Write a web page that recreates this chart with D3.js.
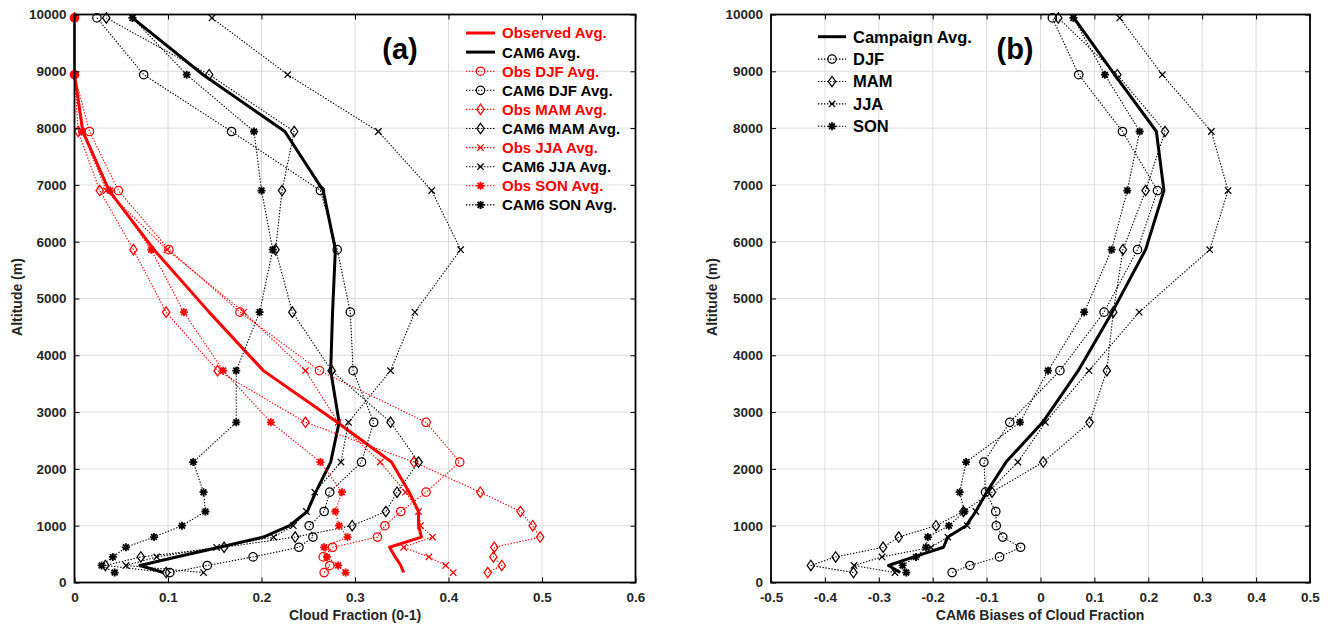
<!DOCTYPE html>
<html><head><meta charset="utf-8">
<script src="https://cdn.jsdelivr.net/npm/d3@7"></script>
<style>
body{margin:0;background:#fff}
svg{display:block}
text{font-family:'Liberation Sans',Arial,Helvetica,sans-serif;font-weight:bold}
</style>
</head><body>
<svg id="c" width="1331" height="625"></svg>
<script>
// ---------------- DATA ----------------
const altitudes = [175, 300, 450, 620, 800, 1000, 1250, 1590, 2120, 2820, 3730, 4760, 5860, 6900, 7940, 8940, 9940];

// Panel (a): cloud fraction (0-1)
const obsAvg  = [0.352, 0.349, 0.343, 0.337, 0.371, 0.368, 0.368, 0.358, 0.339, 0.281, 0.202, 0.144, 0.085, 0.037, 0.009, 0.000, 0.000];
const cam6Avg = [0.095, 0.070, 0.109, 0.155, 0.202, 0.230, 0.249, 0.258, 0.274, 0.283, 0.274, 0.276, 0.279, 0.266, 0.225, 0.1375, 0.062];
const obsDJF  = [0.267, 0.273, 0.266, 0.276, 0.324, 0.332, 0.349, 0.376, 0.412, 0.376, 0.262, 0.177, 0.101, 0.047, 0.016, 0.000, 0.000];
const cam6DJF = [0.102, 0.142, 0.191, 0.240, 0.255, 0.251, 0.267, 0.273, 0.307, 0.320, 0.298, 0.295, 0.281, 0.263, 0.168, 0.074, 0.024];
const obsMAM  = [0.442, 0.457, 0.448, 0.449, 0.498, 0.490, 0.477, 0.434, 0.363, 0.247, 0.153, 0.098, 0.063, 0.027, 0.004, 0.000, 0.000];
const cam6MAM = [0.098, 0.033, 0.071, 0.160, 0.236, 0.297, 0.333, 0.345, 0.368, 0.338, 0.275, 0.233, 0.215, 0.222, 0.235, 0.144, 0.034];
const obsJJA  = [0.405, 0.397, 0.379, 0.352, 0.383, 0.370, 0.368, 0.354, 0.327, 0.282, 0.247, 0.181, 0.099, 0.034, 0.008, 0.000, 0.000];
const cam6JJA = [0.138, 0.055, 0.088, 0.152, 0.213, 0.234, 0.248, 0.257, 0.285, 0.293, 0.338, 0.364, 0.413, 0.382, 0.325, 0.228, 0.147];
const obsSON  = [0.290, 0.282, 0.270, 0.267, 0.292, 0.283, 0.279, 0.286, 0.263, 0.210, 0.159, 0.117, 0.082, 0.038, 0.008, 0.000, 0.000];
const cam6SON = [0.043, 0.029, 0.041, 0.055, 0.085, 0.115, 0.140, 0.138, 0.127, 0.173, 0.173, 0.198, 0.212, 0.200, 0.192, 0.120, 0.062];

// Panel (b): CAM6 biases of cloud fraction
const biasAvg = [-0.260, -0.282, -0.235, -0.180, -0.172, -0.138, -0.120, -0.100, -0.064, 0.004, 0.070, 0.133, 0.195, 0.229, 0.215, 0.1375, 0.062];
const biasDJF = [-0.164, -0.131, -0.076, -0.037, -0.070, -0.082, -0.083, -0.102, -0.105, -0.057, 0.036, 0.118, 0.180, 0.217, 0.152, 0.071, 0.022];
const biasMAM = [-0.347, -0.426, -0.380, -0.292, -0.263, -0.194, -0.143, -0.090, 0.005, 0.091, 0.123, 0.135, 0.153, 0.195, 0.231, 0.1425, 0.033];
const biasJJA = [-0.270, -0.346, -0.294, -0.203, -0.172, -0.136, -0.120, -0.097, -0.042, 0.009, 0.090, 0.183, 0.314, 0.348, 0.317, 0.226, 0.147];
const biasSON = [-0.249, -0.256, -0.231, -0.2125, -0.209, -0.170, -0.141, -0.150, -0.138, -0.038, 0.014, 0.081, 0.132, 0.161, 0.184, 0.1195, 0.061];

// Ticks
const yTicks = [0, 1000, 2000, 3000, 4000, 5000, 6000, 7000, 8000, 9000, 10000];
const yTickLabels = ["0", "1000", "2000", "3000", "4000", "5000", "6000", "7000", "8000", "9000", "10000"];
const xTicksA = [0, 0.1, 0.2, 0.3, 0.4, 0.5, 0.6];
const xTickLabelsA = ["0", "0.1", "0.2", "0.3", "0.4", "0.5", "0.6"];
const xTicksB = [-0.5, -0.4, -0.3, -0.2, -0.1, 0, 0.1, 0.2, 0.3, 0.4, 0.5];
const xTickLabelsB = ["-0.5", "-0.4", "-0.3", "-0.2", "-0.1", "0", "0.1", "0.2", "0.3", "0.4", "0.5"];

const legendA = ["Observed Avg.", "CAM6 Avg.", "Obs DJF Avg.", "CAM6 DJF Avg.", "Obs MAM Avg.", "CAM6 MAM Avg.", "Obs JJA Avg.", "CAM6 JJA Avg.", "Obs SON Avg.", "CAM6 SON Avg."];
const legendB = ["Campaign Avg.", "DJF", "MAM", "JJA", "SON"];

// ---------------- DRAWING ----------------
const RED = "#ff0000", BLACK = "#000000", GRID = "#dcdcdc";
const DASH = "1.4,1.6";
const svg = d3.select("#c");
svg.append("rect").attr("width", 1331).attr("height", 625).attr("fill", "#fff");

const y = d3.scaleLinear().domain([0, 10000]).range([582.5, 14.5]);
const xa = d3.scaleLinear().domain([0, 0.6]).range([74.5, 635.5]);
const xb = d3.scaleLinear().domain([-0.5, 0.5]).range([771, 1310]);

function markerPath(t) {
  switch (t) {
    case "o": return "M4.2,0A4.2,4.2 0 1,1 -4.2,0A4.2,4.2 0 1,1 4.2,0Z";
    case "d": return "M0,-5.2L3.7,0L0,5.2L-3.7,0Z";
    case "x": return "M-3.2,-3.2L3.2,3.2M-3.2,3.2L3.2,-3.2";
    case "*": return "M-4,0L4,0M0,-4L0,4M-2.9,-2.9L2.9,2.9M-2.9,2.9L2.9,-2.9";
  }
  return "";
}
const markerWidth = t => t === "*" ? 1.8 : 1.25;

function grid(x, xTicks) {
  const g = svg.append("g");
  const [x0, x1] = x.range();
  g.selectAll("line.gx").data(xTicks).join("line").attr("class", "gx")
    .attr("x1", d => x(d)).attr("x2", d => x(d)).attr("y1", y(10000)).attr("y2", y(0))
    .attr("stroke", GRID).attr("stroke-width", 1);
  g.selectAll("line.gy").data(yTicks).join("line").attr("class", "gy")
    .attr("x1", x0).attr("x2", x1).attr("y1", d => y(d)).attr("y2", d => y(d))
    .attr("stroke", GRID).attr("stroke-width", 1);
}

function series(x, vals, color, marker, dotted, width) {
  const g = svg.append("g");
  const pts = vals.map((v, i) => [x(v), y(altitudes[i])]);
  g.append("path").attr("d", d3.line()(pts)).attr("fill", "none")
    .attr("stroke", color).attr("stroke-width", width)
    .attr("stroke-linejoin", "round")
    .attr("stroke-dasharray", dotted ? DASH : null);
  if (marker) {
    g.selectAll("path.m").data(pts).join("path").attr("class", "m")
      .attr("transform", d => `translate(${d[0]},${d[1]})`)
      .attr("d", markerPath(marker)).attr("fill", "none")
      .attr("stroke", color).attr("stroke-width", markerWidth(marker));
  }
}

function axes(x, xTicks, xLabels) {
  const [x0, x1] = x.range();
  const yb = y(0), yt = y(10000);
  const fs = "13.5px";
  const bottom = svg.append("g").attr("transform", `translate(0,${yb})`)
    .call(d3.axisBottom(x).tickValues(xTicks).tickSize(-5).tickPadding(10)
      .tickFormat((d, i) => xLabels[i]));
  const top = svg.append("g").attr("transform", `translate(0,${yt})`)
    .call(d3.axisTop(x).tickValues(xTicks).tickSize(-5).tickFormat(""));
  const left = svg.append("g").attr("transform", `translate(${x0},0)`)
    .call(d3.axisLeft(y).tickValues(yTicks).tickSize(-5).tickPadding(8)
      .tickFormat((d, i) => yTickLabels[i]));
  const right = svg.append("g").attr("transform", `translate(${x1},0)`)
    .call(d3.axisRight(y).tickValues(yTicks).tickSize(-5).tickFormat(""));
  [bottom, top, left, right].forEach(a => {
    a.select(".domain").remove();
    a.selectAll("line").attr("stroke", BLACK).attr("stroke-width", 1);
    a.selectAll("text").attr("font-size", fs).attr("fill", "#262626")
      .attr("font-family", "'Liberation Sans',Arial,sans-serif").attr("font-weight", "bold");
  });
  svg.append("rect").attr("x", x0).attr("y", yt).attr("width", x1 - x0).attr("height", yb - yt)
    .attr("fill", "none").attr("stroke", BLACK).attr("stroke-width", 1.8);
}

function legend(entries, lx0, lx1, tx, y0, dy, fs) {
  const g = svg.append("g");
  entries.forEach((e, i) => {
    const yy = y0 + i * dy;
    g.append("line").attr("x1", lx0).attr("x2", lx1).attr("y1", yy).attr("y2", yy)
      .attr("stroke", e.color).attr("stroke-width", e.width)
      .attr("stroke-dasharray", e.dotted ? DASH : null);
    if (e.marker) {
      g.append("path").attr("transform", `translate(${(lx0 + lx1) / 2},${yy})`)
        .attr("d", markerPath(e.marker)).attr("fill", "none")
        .attr("stroke", e.color).attr("stroke-width", markerWidth(e.marker));
    }
    g.append("text").attr("x", tx).attr("y", yy).attr("dy", "0.36em")
      .attr("font-size", fs).attr("fill", e.textColor).text(e.label);
  });
}

// ----- Panel (a)
grid(xa, xTicksA);
const seriesA = [
  { vals: obsAvg,  color: RED,   marker: null, dotted: false, width: 3 },
  { vals: cam6Avg, color: BLACK, marker: null, dotted: false, width: 3 },
  { vals: obsDJF,  color: RED,   marker: "o", dotted: true, width: 1.1 },
  { vals: cam6DJF, color: BLACK, marker: "o", dotted: true, width: 1.1 },
  { vals: obsMAM,  color: RED,   marker: "d", dotted: true, width: 1.1 },
  { vals: cam6MAM, color: BLACK, marker: "d", dotted: true, width: 1.1 },
  { vals: obsJJA,  color: RED,   marker: "x", dotted: true, width: 1.1 },
  { vals: cam6JJA, color: BLACK, marker: "x", dotted: true, width: 1.1 },
  { vals: obsSON,  color: RED,   marker: "*", dotted: true, width: 1.1 },
  { vals: cam6SON, color: BLACK, marker: "*", dotted: true, width: 1.1 }
];
seriesA.forEach(s => series(xa, s.vals, s.color, s.marker, s.dotted, s.width));
axes(xa, xTicksA, xTickLabelsA);
legend(seriesA.map((s, i) => ({ label: legendA[i], color: s.color, textColor: s.color, marker: s.marker, dotted: s.dotted, width: s.dotted ? 1.1 : 3 })),
  466, 495, 502, 33, 19.1, "15px");

// ----- Panel (b)
grid(xb, xTicksB);
const seriesB = [
  { vals: biasAvg, marker: null, dotted: false, width: 3 },
  { vals: biasDJF, marker: "o", dotted: true, width: 1.1 },
  { vals: biasMAM, marker: "d", dotted: true, width: 1.1 },
  { vals: biasJJA, marker: "x", dotted: true, width: 1.1 },
  { vals: biasSON, marker: "*", dotted: true, width: 1.1 }
];
seriesB.forEach(s => series(xb, s.vals, BLACK, s.marker, s.dotted, s.width));
axes(xb, xTicksB, xTickLabelsB);
legend(seriesB.map((s, i) => ({ label: legendB[i], color: BLACK, textColor: BLACK, marker: s.marker, dotted: s.dotted, width: s.dotted ? 1.1 : 3 })),
  818, 846, 853, 36.7, 22.4, "16.5px");

// ----- Titles / labels
svg.append("text").attr("x", 355).attr("y", 620).attr("text-anchor", "middle").attr("font-size", "14px").attr("fill", "#262626").text("Cloud Fraction (0-1)");
svg.append("text").attr("x", 1040).attr("y", 620).attr("text-anchor", "middle").attr("font-size", "14px").attr("fill", "#262626").text("CAM6 Biases of Cloud Fraction");
svg.append("text").attr("transform", "translate(22,297) rotate(-90)").attr("text-anchor", "middle").attr("font-size", "14px").attr("fill", "#262626").text("Altitude (m)");
svg.append("text").attr("transform", "translate(717,297) rotate(-90)").attr("text-anchor", "middle").attr("font-size", "14px").attr("fill", "#262626").text("Altitude (m)");
svg.append("text").attr("x", 400).attr("y", 59).attr("text-anchor", "middle").attr("font-size", "29px").attr("fill", BLACK).text("(a)");
svg.append("text").attr("x", 1015).attr("y", 59).attr("text-anchor", "middle").attr("font-size", "29px").attr("fill", BLACK).text("(b)");
</script>
</body></html>
